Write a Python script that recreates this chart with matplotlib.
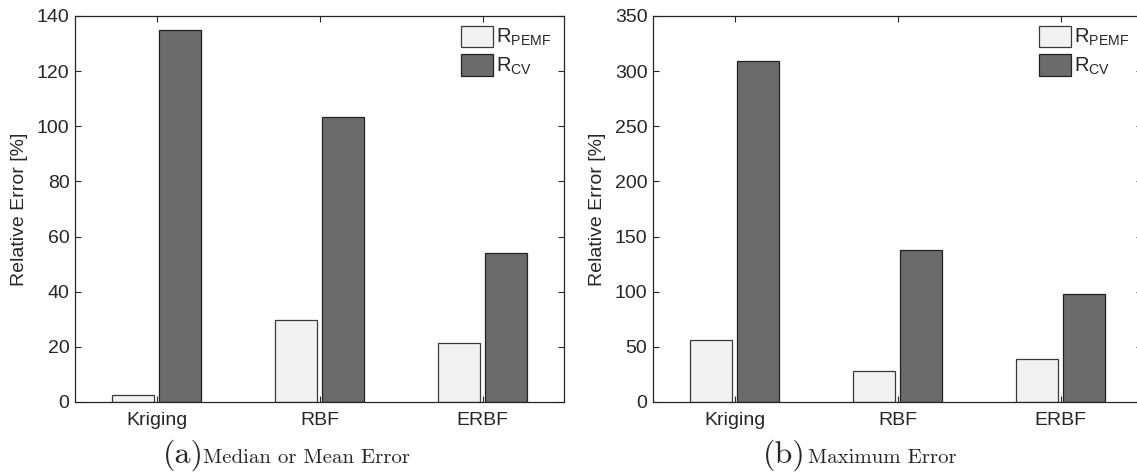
import matplotlib
matplotlib.use('Agg')
import matplotlib.pyplot as plt
import numpy as np

categories = ['Kriging', 'RBF', 'ERBF']
series_names = ['$R_{PEMF}$', '$R_{CV}$']

# median or mean error [%]
median_pemf = [2.7, 29.6, 21.4]
median_cv = [134.9, 103.2, 53.9]

# maximum error [%]
max_pemf = [55.8, 27.8, 38.9]
max_cv = [309.0, 137.9, 97.5]

light = '#f2f2f2'
dark = '#6b6b6b'
ink = '#262626'

plt.rcParams['font.family'] = 'Liberation Sans'
plt.rcParams['mathtext.default'] = 'regular'
plt.rcParams['text.color'] = ink
plt.rcParams['axes.labelcolor'] = ink
plt.rcParams['xtick.color'] = ink
plt.rcParams['ytick.color'] = ink


def draw_panel(ax, pemf, cv, ymax, ystep):
    x = np.arange(1, len(categories) + 1)
    w = 0.26
    ax.bar(x - 0.143, pemf, w, color=light, edgecolor='#3a3a3a', linewidth=0.9,
           label=series_names[0])
    ax.bar(x + 0.143, cv, w, color=dark, edgecolor='#222222', linewidth=0.9,
           label=series_names[1])
    ax.set_xlim(0.5, 3.5)
    ax.set_ylim(0, ymax)
    ax.set_xticks(x)
    ax.set_xticklabels(categories)
    ax.set_yticks(np.arange(0, ymax + 1, ystep))
    ax.tick_params(direction='in', length=4, width=0.8, top=True, right=True,
                   labelsize=14, pad=4)
    ax.tick_params(axis='x', pad=7)
    for s in ax.spines.values():
        s.set_linewidth(0.9)
        s.set_color(ink)
    ax.set_ylabel('Relative Error [%]', fontsize=14, labelpad=6)
    ax.legend(loc='upper left', bbox_to_anchor=(0.79, 0.975), frameon=False,
              fontsize=14.5, borderpad=0, borderaxespad=0,
              handlelength=1.55, handleheight=1.25, handletextpad=0.15,
              labelspacing=0.3)


fig = plt.figure(figsize=(11.37, 4.74), dpi=100)
ax1 = fig.add_axes([75 / 1137, 1 - 402 / 474, 489 / 1137, 386 / 474])
ax2 = fig.add_axes([653 / 1137, 1 - 402 / 474, 489 / 1137, 386 / 474])

draw_panel(ax1, median_pemf, median_cv, 140, 20)
draw_panel(ax2, max_pemf, max_cv, 350, 50)

base = 1 - 463 / 474
fig.text(162.5 / 1137, base, '(a)', fontfamily='cmr10', fontsize=23, va='baseline')
fig.text(203 / 1137, base, 'Median or Mean Error', fontfamily='cmr10',
         fontsize=15, va='baseline')
fig.text(763 / 1137, base, '(b)', fontfamily='cmr10', fontsize=23, va='baseline')
fig.text(808 / 1137, base, 'Maximum Error', fontfamily='cmr10',
         fontsize=15, va='baseline')

fig.savefig('out.png', dpi=100)
